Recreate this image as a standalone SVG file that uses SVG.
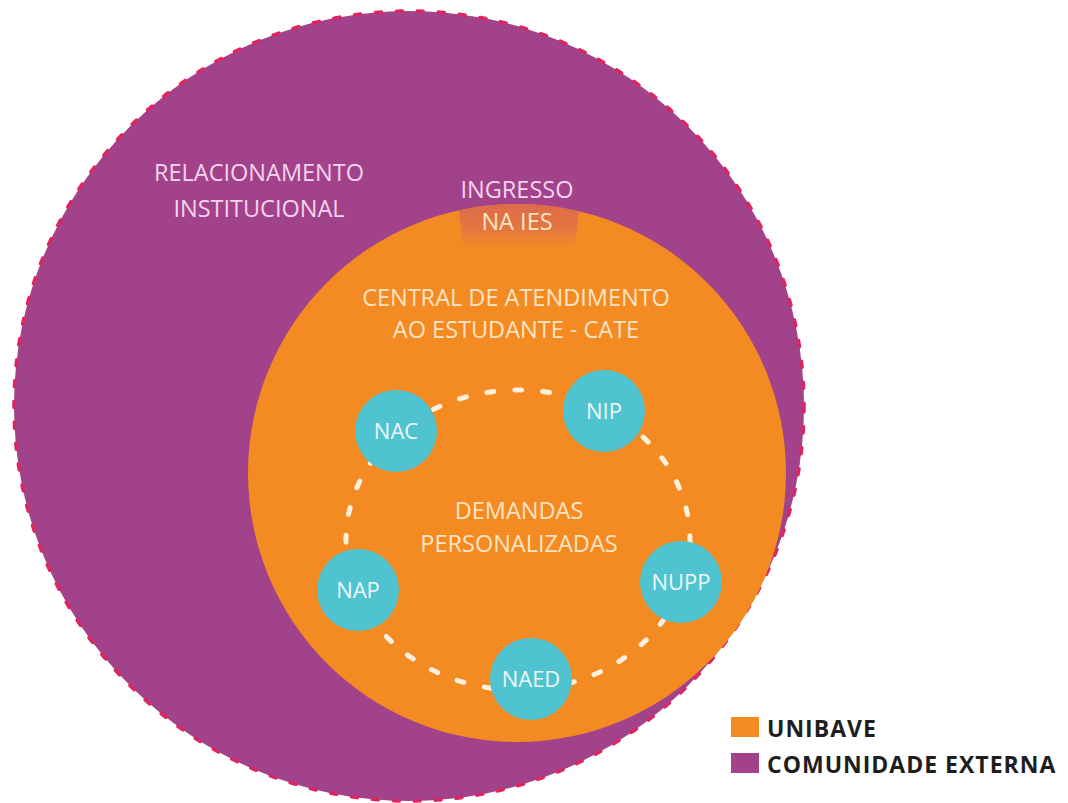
<svg xmlns="http://www.w3.org/2000/svg" width="1068" height="803" viewBox="0 0 1068 803">
  <style>
    .lbl { font-family: "Open Sans", "Noto Sans", "DejaVu Sans", sans-serif; font-size: 23.5px; text-anchor: middle; }
    .pink { fill: #f4d4ec; }
    .cream { fill: #fde4c4; }
    .node circle { fill: #4fc3cf; }
    .node text { font-family: "Open Sans", "Noto Sans", "DejaVu Sans", sans-serif; font-size: 22px; fill: #eef8f6; text-anchor: middle; }
    .legend text { font-family: "Open Sans", "Noto Sans", "DejaVu Sans", sans-serif; font-size: 23px; font-weight: bold; fill: #1e1e1e; letter-spacing: 1px; }
  </style>
  <defs>
    <clipPath id="cateClip"><circle cx="517" cy="473" r="269"/></clipPath>
    <linearGradient id="ingGrad" x1="0" y1="0" x2="0" y2="1">
      <stop offset="0" stop-color="#d8664f" stop-opacity="1"/>
      <stop offset="0.6" stop-color="#e0714a" stop-opacity="0.75"/>
      <stop offset="1" stop-color="#f28a24" stop-opacity="0"/>
    </linearGradient>
  </defs>
  <rect width="1068" height="803" fill="#ffffff"/>

  <g id="comunidade-externa">
    <circle cx="409" cy="406" r="395" fill="#a2428a"/>
    <circle cx="409" cy="406" r="395" fill="none" stroke="#dc2660" stroke-width="3.5" stroke-dasharray="6 15" stroke-linecap="round"/>
    <text class="lbl pink" x="259" y="181">RELACIONAMENTO</text>
    <text class="lbl pink" x="259" y="217">INSTITUCIONAL</text>
  </g>

  <g id="cate">
    <circle cx="517" cy="473" r="269" fill="#f38a22"/>
    <text class="lbl cream" x="516" y="306">CENTRAL DE ATENDIMENTO</text>
    <text class="lbl cream" x="516" y="338">AO ESTUDANTE - CATE</text>
  </g>

  <g id="ingresso">
    <path d="M457,195 L581,195 L574,254 L464,254 Z" fill="url(#ingGrad)" clip-path="url(#cateClip)"/>
    <text class="lbl pink" x="517" y="198">INGRESSO</text>
    <text class="lbl cream" x="517" y="230">NA IES</text>
  </g>

  <g id="connectors">
    <ellipse cx="518" cy="540" rx="172" ry="150" fill="none" stroke="#fdf1de" stroke-width="5" stroke-dasharray="7 21" stroke-linecap="round"/>
  </g>

  <g id="demandas">
    <text class="lbl cream" x="519" y="519">DEMANDAS</text>
    <text class="lbl cream" x="519" y="552">PERSONALIZADAS</text>
  </g>

  <g id="nac" class="node"><circle cx="396" cy="431" r="41"/><text x="396" y="439">NAC</text></g>
  <g id="nip" class="node"><circle cx="604" cy="411" r="41"/><text x="604" y="419">NIP</text></g>
  <g id="nupp" class="node"><circle cx="681" cy="582" r="41"/><text x="681" y="590">NUPP</text></g>
  <g id="naed" class="node"><circle cx="531" cy="679" r="41"/><text x="531" y="687">NAED</text></g>
  <g id="nap" class="node"><circle cx="358" cy="590" r="41"/><text x="358" y="598">NAP</text></g>

  <g id="legend" class="legend">
    <rect x="731" y="717" width="28" height="20" fill="#f38a22"/>
    <text x="767" y="737">UNIBAVE</text>
    <rect x="731" y="753" width="28" height="20" fill="#a2428a"/>
    <text x="767" y="773">COMUNIDADE EXTERNA</text>
  </g>
</svg>
